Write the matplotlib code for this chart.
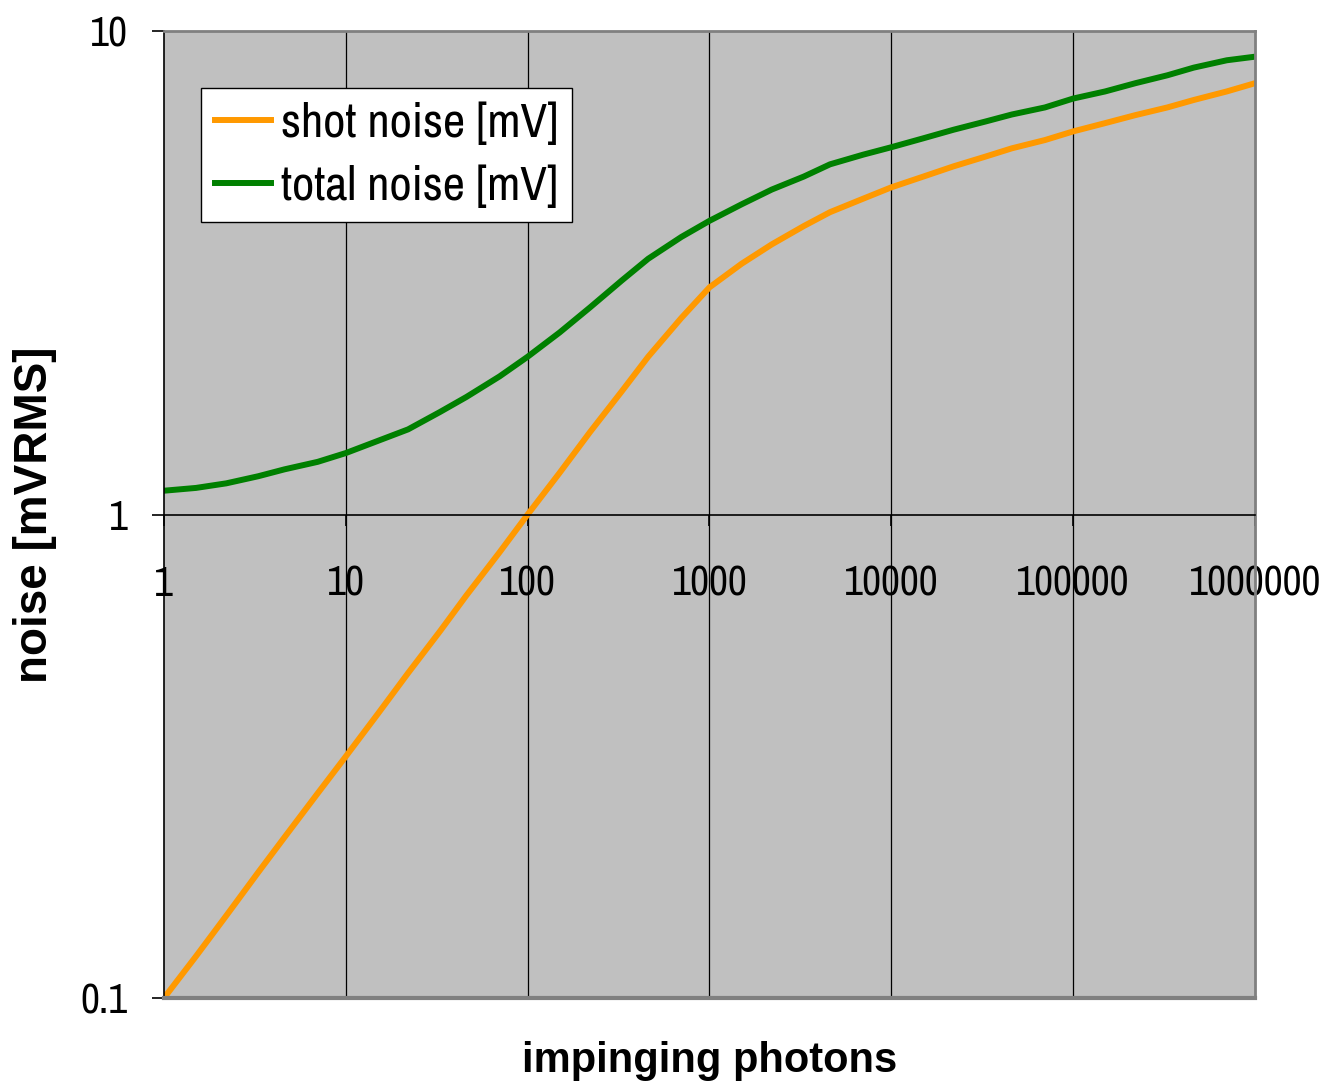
import numpy as np
import matplotlib
matplotlib.use("Agg")
import matplotlib.pyplot as plt
from matplotlib.ticker import FixedLocator, FixedFormatter, NullLocator

NARROW = ['Archivo Narrow', 'Liberation Sans', 'DejaVu Sans']
BOLD = ['Liberation Sans', 'DejaVu Sans']
plt.rcParams['font.family'] = NARROW

# impinging photons
photons = [1, 1.5, 2.2, 3.3, 4.6, 7, 10, 15, 22, 33, 46, 70, 100, 150, 220, 330, 460, 700,
           1000, 1500, 2200, 3300, 4600, 7000, 1e4, 1.5e4, 2.2e4, 3.3e4, 4.6e4, 7e4,
           1e5, 1.5e5, 2.2e5, 3.3e5, 4.6e5, 7e5, 1e6]
# noise [mV]
shot_noise = [0.1, 0.122, 0.148, 0.182, 0.215, 0.265, 0.316, 0.387, 0.47, 0.574, 0.68, 0.835,
              1.0, 1.22, 1.48, 1.8, 2.12, 2.55, 2.95, 3.3, 3.62, 3.95, 4.22, 4.5, 4.75, 5.0,
              5.25, 5.5, 5.72, 5.95, 6.2, 6.45, 6.7, 6.95, 7.2, 7.5, 7.8]
total_noise = [1.12, 1.135, 1.16, 1.2, 1.24, 1.285, 1.34, 1.42, 1.5, 1.63, 1.75, 1.93,
               2.12, 2.38, 2.68, 3.05, 3.38, 3.75, 4.05, 4.38, 4.7, 5.0, 5.3, 5.55, 5.75,
               6.0, 6.25, 6.5, 6.72, 6.95, 7.25, 7.5, 7.8, 8.1, 8.4, 8.7, 8.85]

xticks = [1, 10, 100, 1000, 10000, 100000, 1000000]
xtick_labels = ['1', '10', '100', '1000', '10000', '100000', '1000000']
yticks = [0.1, 1, 10]
ytick_labels = ['0.1', '1', '10']

fig = plt.figure(figsize=(13.29, 10.85), dpi=100)
ax = fig.add_axes([0.1234, 0.0802, 0.8209, 0.8912])
ax.set_facecolor('#C0C0C0')

ax.plot(photons, shot_noise, color='#FF9900', lw=4.3, label='shot noise [mV]')
ax.plot(photons, total_noise, color='#008000', lw=4.3, label='total noise [mV]')

ax.set_xscale('log')
ax.set_yscale('log')
ax.set_xlim(1, 1e6)
ax.set_ylim(0.1, 10)

# vertical grid lines at decades
for xv in xticks[1:-1]:
    ax.axvline(xv, color='black', lw=0.9, zorder=0.5)

ax.xaxis.set_major_locator(FixedLocator(xticks))
ax.xaxis.set_major_formatter(FixedFormatter(xtick_labels))
ax.xaxis.set_minor_locator(NullLocator())
ax.yaxis.set_major_locator(FixedLocator(yticks))
ax.yaxis.set_major_formatter(FixedFormatter(ytick_labels))
ax.yaxis.set_minor_locator(NullLocator())

# x axis crosses at y = 1
ax.spines['bottom'].set_position(('data', 1))
ax.spines['bottom'].set_color('black')
ax.spines['bottom'].set_linewidth(1.2)
ax.spines['left'].set_color('black')
ax.spines['left'].set_linewidth(1.2)
for s in ['top', 'right']:
    ax.spines[s].set_color('#808080')
    ax.spines[s].set_linewidth(2)
ax.axhline(0.1, color='#808080', lw=3, clip_on=False, zorder=3)

ax.tick_params(axis='x', direction='out', length=8, width=1.2, pad=28, labelsize=30)
ax.tick_params(axis='y', direction='out', length=9, width=1.2, pad=17, labelsize=30)

ax.set_xlabel('impinging photons', fontsize=30, fontweight='bold', family=BOLD)
ax.xaxis.set_label_coords(0.5, -0.044)
ax.set_ylabel('noise [mVRMS]', fontsize=33, fontweight='bold', family=BOLD)
ax.yaxis.set_label_coords(-0.098, 0.5)

leg = ax.legend(loc='upper left', bbox_to_anchor=(0.034, 0.941), borderaxespad=0,
                fontsize=35, handlelength=1.15, handletextpad=0.22, labelspacing=0.4,
                borderpad=0.28, fancybox=False, framealpha=1)
leg.get_frame().set_edgecolor('black')
leg.get_frame().set_linewidth(1)

fig.savefig('out.png', dpi=100)
